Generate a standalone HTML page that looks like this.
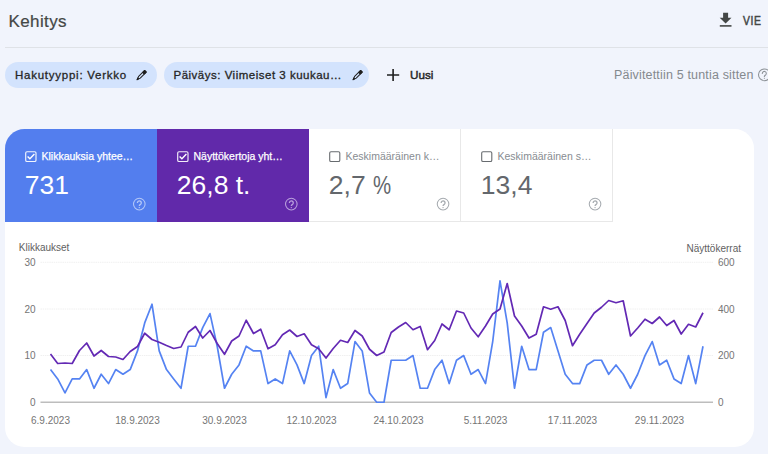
<!DOCTYPE html>
<html><head><meta charset="utf-8"><title>Kehitys</title>
<style>
*{margin:0;padding:0;box-sizing:border-box}
html,body{width:768px;height:454px;overflow:hidden;background:#f1f4fc;font-family:"Liberation Sans",sans-serif}
.abs{position:absolute;white-space:nowrap}
#title{left:8.5px;top:11px;font-size:17px;letter-spacing:.38px;color:#444746;line-height:22px;-webkit-text-stroke:.2px #444746}
#hr{left:5px;top:47px;width:763px;height:1px;background:#dfe2e7}
.chip{top:62px;height:26px;border-radius:13px;background:#d3e3fd}
.chiptx{top:62.1px;line-height:26px;font-size:11.5px;color:#262626;-webkit-text-stroke:.3px #262626;letter-spacing:.75px}
#uusi{left:410px;top:61.8px;line-height:26px;font-size:11.7px;color:#262626;-webkit-text-stroke:.45px #262626;letter-spacing:0}
#vie{left:742.8px;top:10.3px;line-height:22px;font-size:12.2px;color:#444746;-webkit-text-stroke:.5px #444746;letter-spacing:.7px;transform:scaleX(.85);transform-origin:0 50%}
#upd{left:614px;top:64px;line-height:22px;font-size:12.5px;color:#84898e;letter-spacing:.17px}
#card{left:5px;top:129px;width:749.4px;height:317.7px;border-radius:19.5px;background:#fff;overflow:hidden}
.tile{position:absolute;top:0;height:92.5px;width:152px}
.lab{position:absolute;top:19.5px;left:36.5px;font-size:10.5px;line-height:14px;white-space:nowrap}
.val{position:absolute;top:40.6px;left:19.8px;font-size:26.5px;line-height:30px;white-space:nowrap}
svg{position:absolute;left:0;top:0}
.t{font-family:"Liberation Sans",sans-serif;font-size:10px;fill:#757575}
.g{stroke:#f0f0f0;stroke-width:1;stroke-dasharray:1.5 .7}
</style></head><body>
<div class="abs" id="title">Kehitys</div>
<div class="abs" id="vie">VIE</div>
<div class="abs" id="hr"></div>
<div class="abs chip" style="left:5px;width:152px"></div>
<div class="abs chiptx" style="left:15px">Hakutyyppi: Verkko</div>
<div class="abs chip" style="left:164px;width:205px"></div>
<div class="abs chiptx" style="left:173.5px;letter-spacing:.5px">Päiväys: Viimeiset 3 kuukau…</div>
<div class="abs" id="uusi">Uusi</div>
<div class="abs" id="upd">Päivitettiin 5 tuntia sitten</div>
<div class="abs" id="card">
 <div class="tile" style="left:0;background:#537eee;color:#fff"><div class="lab" style="-webkit-text-stroke:.25px #fff">Klikkauksia yhtee…</div><div class="val">731</div></div>
 <div class="tile" style="left:152px;background:#6129aa;color:#fff"><div class="lab" style="-webkit-text-stroke:.25px #fff">Näyttökertoja yht…</div><div class="val">26,8 t.</div></div>
 <div class="tile" style="left:304px;border-right:1px solid #e8e8e8;border-bottom:1px solid #e8e8e8"><div class="lab" style="color:#878c91">Keskimääräinen k…</div><div class="val" style="color:#63676c">2,7 <span style="display:inline-block;transform:scaleX(.77);transform-origin:0 50%;margin-left:-.4px">%</span></div></div>
 <div class="tile" style="left:456px;border-right:1px solid #e8e8e8;border-bottom:1px solid #e8e8e8"><div class="lab" style="color:#878c91">Keskimääräinen s…</div><div class="val" style="color:#63676c">13,4</div></div>
</div>
<svg width="768" height="454" viewBox="0 0 768 454">
 <!-- header icons -->
 <g fill="#444746"><path d="M723.1 12.8h5v4.9h3.4l-5.9 5.7-5.9-5.7h3.4z"/><rect x="719.8" y="25.1" width="11.7" height="1.6"/></g>
 <g stroke="#1f1f1f" stroke-width="1.6"><path d="M393.1 69v12M387 75h12.2"/></g>
 <g transform="translate(141.9,74.8) rotate(45)" fill="none" stroke="#1f1f1f" stroke-width="1" stroke-linejoin="round"><path d="M-1.15 -5 h2.3 v8.5 L0 6.9 L-1.15 3.5 Z"/><rect x="-1.15" y="-5.1" width="2.3" height="2.9" rx=".5" fill="#1f1f1f"/><path d="M-.8 4.9 L0 6.9 L.8 4.9Z" fill="#1f1f1f" stroke-width=".5"/></g><g transform="translate(357.9,74.8) rotate(45)" fill="none" stroke="#1f1f1f" stroke-width="1" stroke-linejoin="round"><path d="M-1.15 -5 h2.3 v8.5 L0 6.9 L-1.15 3.5 Z"/><rect x="-1.15" y="-5.1" width="2.3" height="2.9" rx=".5" fill="#1f1f1f"/><path d="M-.8 4.9 L0 6.9 L.8 4.9Z" fill="#1f1f1f" stroke-width=".5"/></g>
 <g fill="none" stroke="#8d9297" stroke-width="1.05"><circle cx="764.4" cy="74.8" r="5.9"/><path d="M762.3 73.4a2 2 0 1 1 3.2 1.6c-.8.55-1.2.9-1.2 1.8" stroke-linecap="round"/><circle cx="764.3" cy="78.4" r=".5" fill="#8d9297" stroke="none"/></g>
 <!-- tile icons -->
 <g transform="translate(25,151)" fill="none" stroke="#fff"><rect x=".7" y=".7" width="10.3" height="9.8" rx="1.3" stroke-width="1.15" stroke-opacity=".92"/><path d="M2.6 5.4 L4.9 7.7 L9.4 2.9" stroke-width="1.4"/></g><g transform="translate(177,151)" fill="none" stroke="#fff"><rect x=".7" y=".7" width="10.3" height="9.8" rx="1.3" stroke-width="1.15" stroke-opacity=".92"/><path d="M2.6 5.4 L4.9 7.7 L9.4 2.9" stroke-width="1.4"/></g><rect x="329.7" y="151.7" width="10.1" height="9.8" rx="1.3" fill="none" stroke="#676b6f" stroke-width="1.1"/><rect x="481.7" y="151.7" width="10.1" height="9.8" rx="1.3" fill="none" stroke="#676b6f" stroke-width="1.1"/>
 <g transform="translate(132.8,197.6)" fill="none" stroke="#b4c8f8" stroke-width="1.05"><circle cx="6.5" cy="6.5" r="5.8"/><path d="M4.6 5.3a1.95 1.95 0 1 1 3.1 1.5c-.8.55-1.2.9-1.2 1.6" stroke-width="1.3"/><circle cx="6.5" cy="10" r=".7" fill="#b4c8f8" stroke="none"/></g><g transform="translate(284.8,197.6)" fill="none" stroke="#b9a0dc" stroke-width="1.05"><circle cx="6.5" cy="6.5" r="5.8"/><path d="M4.6 5.3a1.95 1.95 0 1 1 3.1 1.5c-.8.55-1.2.9-1.2 1.6" stroke-width="1.3"/><circle cx="6.5" cy="10" r=".7" fill="#b9a0dc" stroke="none"/></g><g transform="translate(436.55,197.6)" fill="none" stroke="#a6abb0" stroke-width="1.05"><circle cx="6.5" cy="6.5" r="5.8"/><path d="M4.6 5.3a1.95 1.95 0 1 1 3.1 1.5c-.8.55-1.2.9-1.2 1.6" stroke-width="1.3"/><circle cx="6.5" cy="10" r=".7" fill="#a6abb0" stroke="none"/></g><g transform="translate(588.55,197.6)" fill="none" stroke="#a6abb0" stroke-width="1.05"><circle cx="6.5" cy="6.5" r="5.8"/><path d="M4.6 5.3a1.95 1.95 0 1 1 3.1 1.5c-.8.55-1.2.9-1.2 1.6" stroke-width="1.3"/><circle cx="6.5" cy="10" r=".7" fill="#a6abb0" stroke="none"/></g>
 <!-- chart -->
 <text x="18.8" y="251.2" class="t" style="fill:#616161">Klikkaukset</text>
 <text x="741" y="251.5" text-anchor="end" class="t" style="fill:#616161">Näyttökerrat</text>
 <line x1="40.5" x2="713" y1="262.25" y2="262.25" class="g"/><line x1="40.5" x2="713" y1="309" y2="309" class="g"/><line x1="40.5" x2="713" y1="355.5" y2="355.5" class="g"/>
 <line x1="40.5" x2="713" y1="402.25" y2="402.25" stroke="#bdbdbd" stroke-width="1.4"/>
 <text x="35.5" y="265.9" text-anchor="end" class="t">30</text><text x="35.5" y="312.7" text-anchor="end" class="t">20</text><text x="35.5" y="359.2" text-anchor="end" class="t">10</text><text x="35.5" y="405.9" text-anchor="end" class="t">0</text><text x="718" y="265.9" class="t">600</text><text x="718" y="312.7" class="t">400</text><text x="718" y="359.2" class="t">200</text><text x="718" y="405.9" class="t">0</text><text x="50.5" y="424" text-anchor="middle" class="t">6.9.2023</text><text x="137.5" y="424" text-anchor="middle" class="t">18.9.2023</text><text x="224.5" y="424" text-anchor="middle" class="t">30.9.2023</text><text x="311.5" y="424" text-anchor="middle" class="t">12.10.2023</text><text x="398.5" y="424" text-anchor="middle" class="t">24.10.2023</text><text x="485.5" y="424" text-anchor="middle" class="t">5.11.2023</text><text x="572.5" y="424" text-anchor="middle" class="t">17.11.2023</text><text x="659.5" y="424" text-anchor="middle" class="t">29.11.2023</text>
 <polyline points="50.5,369.58 57.7,378.92 65.0,392.92 72.2,378.92 79.5,378.92 86.7,369.58 94.0,388.25 101.2,374.25 108.5,383.58 115.7,369.58 123.0,374.25 130.2,369.58 137.5,350.92 144.7,322.92 152.0,304.25 159.2,350.92 166.5,369.58 173.7,378.92 181.0,388.25 188.2,346.25 195.5,346.25 202.7,327.58 210.0,313.58 217.2,346.25 224.5,388.25 231.7,374.25 239.0,364.92 246.2,346.25 253.5,350.92 260.7,350.92 268.0,383.58 275.2,378.92 282.5,383.58 289.7,350.92 297.0,364.92 304.2,383.58 311.5,355.58 318.7,346.25 326.0,397.58 333.2,369.58 340.5,388.25 347.7,383.58 355.0,341.58 362.2,350.92 369.5,392.92 376.7,402.25 384.0,402.25 391.2,360.25 398.5,360.25 405.7,360.25 413.0,355.58 420.2,388.25 427.5,388.25 434.7,369.58 442.0,360.25 449.2,383.58 456.5,360.25 463.7,355.58 471.0,374.25 478.2,369.58 485.5,383.58 492.7,341.58 500.0,280.92 507.2,322.92 514.5,388.25 521.7,346.25 529.0,369.58 536.2,369.58 543.5,332.25 550.7,327.58 558.0,350.92 565.2,374.25 572.5,383.58 579.7,383.58 587.0,364.92 594.2,360.25 601.5,360.25 608.7,374.25 616.0,364.92 623.2,374.25 630.5,388.25 637.7,374.25 645.0,355.58 652.2,341.58 659.5,364.92 666.7,360.25 674.0,378.92 681.2,383.58 688.5,355.58 695.7,383.58 703.0,346.25" fill="none" stroke="#5583f2" stroke-width="1.7" stroke-linejoin="round"/>
 <polyline points="50.5,354.00 57.7,363.50 65.0,363.00 72.2,363.50 79.5,350.50 86.7,343.00 94.0,356.00 101.2,350.50 108.5,356.50 115.7,357.00 123.0,359.50 130.2,351.50 137.5,346.50 144.7,333.25 152.0,339.50 159.2,342.25 166.5,345.50 173.7,348.50 181.0,347.00 188.2,332.25 195.5,326.50 202.7,338.00 210.0,330.50 217.2,343.50 224.5,354.25 231.7,341.00 239.0,336.00 246.2,320.25 253.5,333.50 260.7,329.25 268.0,348.75 275.2,344.75 282.5,334.75 289.7,330.00 297.0,336.50 304.2,333.75 311.5,344.75 318.7,348.75 326.0,358.00 333.2,348.50 340.5,340.25 347.7,342.50 355.0,330.50 362.2,336.00 369.5,349.25 376.7,355.50 384.0,352.00 391.2,332.50 398.5,327.00 405.7,322.50 413.0,329.75 420.2,326.50 427.5,349.75 434.7,340.50 442.0,324.00 449.2,329.75 456.5,311.00 463.7,313.00 471.0,328.00 478.2,336.75 485.5,326.00 492.7,314.00 500.0,309.00 507.2,283.50 514.5,316.00 521.7,326.00 529.0,338.00 536.2,334.25 543.5,306.75 550.7,309.25 558.0,306.75 565.2,320.50 572.5,345.75 579.7,334.25 587.0,323.50 594.2,313.00 601.5,307.25 608.7,300.50 616.0,302.75 623.2,300.75 630.5,336.00 637.7,328.00 645.0,319.25 652.2,323.50 659.5,317.00 666.7,325.50 674.0,320.50 681.2,334.00 688.5,324.25 695.7,327.00 703.0,312.75" fill="none" stroke="#6329b4" stroke-width="1.7" stroke-linejoin="round"/>
</svg>
</body></html>
